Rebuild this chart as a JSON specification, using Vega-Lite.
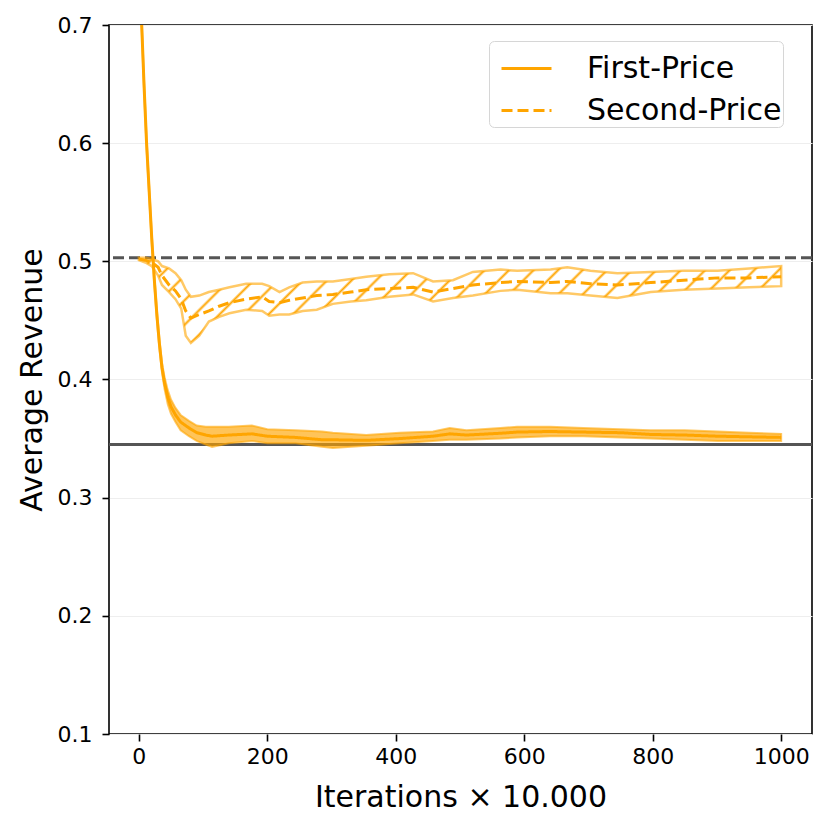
{
  "$schema": "https://vega.github.io/schema/vega-lite/v6.json",
  "width": 703,
  "height": 709,
  "autosize": {"type": "none"},
  "padding": {"left": 109, "top": 25, "right": 18, "bottom": 96},
  "config": {
    "font": "DejaVu Sans",
    "view": {"stroke": "black", "strokeWidth": 1.6},
    "axis": {
      "domain": false,
      "tickColor": "black",
      "tickWidth": 1.6,
      "tickSize": 7,
      "labelColor": "black",
      "labelFontSize": 22,
      "titleFontSize": 30,
      "titleFontWeight": "normal",
      "titleColor": "black"
    }
  },
  "data": {
    "values": [
      {"auction": "First-Price", "x": 0, "mean": 0.77, "lo": 0.765, "hi": 0.775},
      {"auction": "First-Price", "x": 4, "mean": 0.706, "lo": 0.702, "hi": 0.71},
      {"auction": "First-Price", "x": 8, "mean": 0.65, "lo": 0.646, "hi": 0.654},
      {"auction": "First-Price", "x": 12, "mean": 0.6, "lo": 0.596, "hi": 0.604},
      {"auction": "First-Price", "x": 16, "mean": 0.56, "lo": 0.556, "hi": 0.564},
      {"auction": "First-Price", "x": 20, "mean": 0.52, "lo": 0.516, "hi": 0.524},
      {"auction": "First-Price", "x": 24, "mean": 0.485, "lo": 0.481, "hi": 0.489},
      {"auction": "First-Price", "x": 28, "mean": 0.455, "lo": 0.451, "hi": 0.459},
      {"auction": "First-Price", "x": 32, "mean": 0.43, "lo": 0.426, "hi": 0.434},
      {"auction": "First-Price", "x": 36, "mean": 0.41, "lo": 0.406, "hi": 0.414},
      {"auction": "First-Price", "x": 40, "mean": 0.397, "lo": 0.392, "hi": 0.402},
      {"auction": "First-Price", "x": 45, "mean": 0.385, "lo": 0.379, "hi": 0.391},
      {"auction": "First-Price", "x": 50, "mean": 0.377, "lo": 0.371, "hi": 0.383},
      {"auction": "First-Price", "x": 57, "mean": 0.37, "lo": 0.364, "hi": 0.376},
      {"auction": "First-Price", "x": 65, "mean": 0.364, "lo": 0.357, "hi": 0.37},
      {"auction": "First-Price", "x": 78, "mean": 0.359, "lo": 0.352, "hi": 0.365},
      {"auction": "First-Price", "x": 90, "mean": 0.355, "lo": 0.348, "hi": 0.361},
      {"auction": "First-Price", "x": 104, "mean": 0.353, "lo": 0.345, "hi": 0.36},
      {"auction": "First-Price", "x": 114, "mean": 0.352, "lo": 0.343, "hi": 0.36},
      {"auction": "First-Price", "x": 140, "mean": 0.353, "lo": 0.346, "hi": 0.36},
      {"auction": "First-Price", "x": 176, "mean": 0.354, "lo": 0.348, "hi": 0.361},
      {"auction": "First-Price", "x": 200, "mean": 0.352, "lo": 0.346, "hi": 0.358},
      {"auction": "First-Price", "x": 244, "mean": 0.351, "lo": 0.346, "hi": 0.357},
      {"auction": "First-Price", "x": 285, "mean": 0.349, "lo": 0.343, "hi": 0.356},
      {"auction": "First-Price", "x": 302, "mean": 0.349, "lo": 0.342, "hi": 0.355},
      {"auction": "First-Price", "x": 354, "mean": 0.3485, "lo": 0.344, "hi": 0.353},
      {"auction": "First-Price", "x": 406, "mean": 0.35, "lo": 0.346, "hi": 0.355},
      {"auction": "First-Price", "x": 458, "mean": 0.352, "lo": 0.348, "hi": 0.356},
      {"auction": "First-Price", "x": 484, "mean": 0.354, "lo": 0.349, "hi": 0.359},
      {"auction": "First-Price", "x": 510, "mean": 0.353, "lo": 0.349, "hi": 0.357},
      {"auction": "First-Price", "x": 563, "mean": 0.3545, "lo": 0.35, "hi": 0.359},
      {"auction": "First-Price", "x": 589, "mean": 0.3555, "lo": 0.351, "hi": 0.36},
      {"auction": "First-Price", "x": 640, "mean": 0.356, "lo": 0.352, "hi": 0.36},
      {"auction": "First-Price", "x": 692, "mean": 0.3555, "lo": 0.352, "hi": 0.359},
      {"auction": "First-Price", "x": 750, "mean": 0.355, "lo": 0.351, "hi": 0.358},
      {"auction": "First-Price", "x": 797, "mean": 0.3535, "lo": 0.35, "hi": 0.357},
      {"auction": "First-Price", "x": 850, "mean": 0.353, "lo": 0.349, "hi": 0.357},
      {"auction": "First-Price", "x": 901, "mean": 0.352, "lo": 0.348, "hi": 0.356},
      {"auction": "First-Price", "x": 950, "mean": 0.3515, "lo": 0.348, "hi": 0.355},
      {"auction": "First-Price", "x": 1000, "mean": 0.351, "lo": 0.348, "hi": 0.354},
      {"auction": "Second-Price", "x": 0, "mean": 0.502, "lo": 0.501, "hi": 0.503},
      {"auction": "Second-Price", "x": 10, "mean": 0.501, "lo": 0.499, "hi": 0.503},
      {"auction": "Second-Price", "x": 20, "mean": 0.499, "lo": 0.496, "hi": 0.502},
      {"auction": "Second-Price", "x": 30, "mean": 0.495, "lo": 0.488, "hi": 0.5},
      {"auction": "Second-Price", "x": 36, "mean": 0.488, "lo": 0.48, "hi": 0.496},
      {"auction": "Second-Price", "x": 47, "mean": 0.48, "lo": 0.474, "hi": 0.494},
      {"auction": "Second-Price", "x": 57, "mean": 0.475, "lo": 0.468, "hi": 0.49},
      {"auction": "Second-Price", "x": 66, "mean": 0.468, "lo": 0.46, "hi": 0.484},
      {"auction": "Second-Price", "x": 73, "mean": 0.458, "lo": 0.437, "hi": 0.476},
      {"auction": "Second-Price", "x": 81, "mean": 0.452, "lo": 0.431, "hi": 0.47},
      {"auction": "Second-Price", "x": 94, "mean": 0.455, "lo": 0.437, "hi": 0.471},
      {"auction": "Second-Price", "x": 109, "mean": 0.458, "lo": 0.449, "hi": 0.474},
      {"auction": "Second-Price", "x": 125, "mean": 0.462, "lo": 0.453, "hi": 0.476},
      {"auction": "Second-Price", "x": 141, "mean": 0.465, "lo": 0.456, "hi": 0.478},
      {"auction": "Second-Price", "x": 167, "mean": 0.468, "lo": 0.459, "hi": 0.481},
      {"auction": "Second-Price", "x": 192, "mean": 0.47, "lo": 0.458, "hi": 0.481},
      {"auction": "Second-Price", "x": 203, "mean": 0.466, "lo": 0.454, "hi": 0.479},
      {"auction": "Second-Price", "x": 219, "mean": 0.465, "lo": 0.455, "hi": 0.474},
      {"auction": "Second-Price", "x": 234, "mean": 0.467, "lo": 0.455, "hi": 0.478},
      {"auction": "Second-Price", "x": 255, "mean": 0.469, "lo": 0.458, "hi": 0.482},
      {"auction": "Second-Price", "x": 277, "mean": 0.471, "lo": 0.459, "hi": 0.483},
      {"auction": "Second-Price", "x": 302, "mean": 0.472, "lo": 0.464, "hi": 0.483},
      {"auction": "Second-Price", "x": 330, "mean": 0.474, "lo": 0.466, "hi": 0.485},
      {"auction": "Second-Price", "x": 354, "mean": 0.476, "lo": 0.467, "hi": 0.487},
      {"auction": "Second-Price", "x": 390, "mean": 0.477, "lo": 0.47, "hi": 0.489},
      {"auction": "Second-Price", "x": 427, "mean": 0.478, "lo": 0.472, "hi": 0.49},
      {"auction": "Second-Price", "x": 458, "mean": 0.474, "lo": 0.466, "hi": 0.483},
      {"auction": "Second-Price", "x": 489, "mean": 0.477, "lo": 0.469, "hi": 0.484},
      {"auction": "Second-Price", "x": 520, "mean": 0.48, "lo": 0.471, "hi": 0.491},
      {"auction": "Second-Price", "x": 563, "mean": 0.482, "lo": 0.475, "hi": 0.493},
      {"auction": "Second-Price", "x": 589, "mean": 0.483, "lo": 0.476, "hi": 0.492},
      {"auction": "Second-Price", "x": 641, "mean": 0.482, "lo": 0.473, "hi": 0.493},
      {"auction": "Second-Price", "x": 667, "mean": 0.483, "lo": 0.473, "hi": 0.495},
      {"auction": "Second-Price", "x": 703, "mean": 0.481, "lo": 0.471, "hi": 0.492},
      {"auction": "Second-Price", "x": 745, "mean": 0.48, "lo": 0.469, "hi": 0.49},
      {"auction": "Second-Price", "x": 797, "mean": 0.482, "lo": 0.474, "hi": 0.491},
      {"auction": "Second-Price", "x": 848, "mean": 0.484, "lo": 0.476, "hi": 0.492},
      {"auction": "Second-Price", "x": 901, "mean": 0.486, "lo": 0.477, "hi": 0.492},
      {"auction": "Second-Price", "x": 950, "mean": 0.486, "lo": 0.478, "hi": 0.494},
      {"auction": "Second-Price", "x": 1000, "mean": 0.487, "lo": 0.479, "hi": 0.496}
    ]
  },
  "encoding": {
    "x": {
      "field": "x",
      "type": "quantitative",
      "scale": {"domain": [-46.5, 1048], "nice": false, "zero": false},
      "axis": {
        "title": "Iterations × 10.000",
        "values": [0, 200, 400, 600, 800, 1000],
        "format": "d",
        "grid": false,
        "labelPadding": 5,
        "titlePadding": 15
      }
    }
  },
  "layer": [
    {
      "data": {"values": [{"ref": 0.503}]},
      "mark": {"type": "rule", "color": "#555555", "strokeWidth": 3, "strokeDash": [11, 5]},
      "encoding": {"x": null, "y": {"field": "ref", "type": "quantitative"}}
    },
    {
      "data": {"values": [{"ref": 0.345}]},
      "mark": {"type": "rule", "color": "#555555", "strokeWidth": 3},
      "encoding": {"x": null, "y": {"field": "ref", "type": "quantitative"}}
    },
    {
      "transform": [{"filter": "datum.auction === 'First-Price'"}],
      "mark": {"type": "area", "clip": true, "color": "#FFA500", "fillOpacity": 0.65, "stroke": "#FFA500", "strokeOpacity": 0.6, "strokeWidth": 2},
      "encoding": {
        "y": {"field": "lo", "type": "quantitative"},
        "y2": {"field": "hi"}
      }
    },
    {
      "transform": [{"filter": "datum.auction === 'Second-Price'"}],
      "mark": {
        "type": "area",
        "clip": true,
        "fill": {
          "gradient": "linear",
          "x1": 0, "y1": 0, "x2": 1.12, "y2": 0.1484,
          "stops": [
            {"offset": 0, "color": "rgba(255,165,0,0)"},
            {"offset": 0.016, "color": "rgba(255,165,0,0)"}, {"offset": 0.02, "color": "#FFA500"}, {"offset": 0.024, "color": "rgba(255,165,0,0)"},
            {"offset": 0.0495, "color": "rgba(255,165,0,0)"}, {"offset": 0.0535, "color": "#FFA500"}, {"offset": 0.0575, "color": "rgba(255,165,0,0)"},
            {"offset": 0.083, "color": "rgba(255,165,0,0)"}, {"offset": 0.087, "color": "#FFA500"}, {"offset": 0.091, "color": "rgba(255,165,0,0)"},
            {"offset": 0.1165, "color": "rgba(255,165,0,0)"}, {"offset": 0.1205, "color": "#FFA500"}, {"offset": 0.1245, "color": "rgba(255,165,0,0)"},
            {"offset": 0.15, "color": "rgba(255,165,0,0)"}, {"offset": 0.154, "color": "#FFA500"}, {"offset": 0.158, "color": "rgba(255,165,0,0)"},
            {"offset": 0.1835, "color": "rgba(255,165,0,0)"}, {"offset": 0.1875, "color": "#FFA500"}, {"offset": 0.1915, "color": "rgba(255,165,0,0)"},
            {"offset": 0.217, "color": "rgba(255,165,0,0)"}, {"offset": 0.221, "color": "#FFA500"}, {"offset": 0.225, "color": "rgba(255,165,0,0)"},
            {"offset": 0.2505, "color": "rgba(255,165,0,0)"}, {"offset": 0.2545, "color": "#FFA500"}, {"offset": 0.2585, "color": "rgba(255,165,0,0)"},
            {"offset": 0.284, "color": "rgba(255,165,0,0)"}, {"offset": 0.288, "color": "#FFA500"}, {"offset": 0.292, "color": "rgba(255,165,0,0)"},
            {"offset": 0.3175, "color": "rgba(255,165,0,0)"}, {"offset": 0.3215, "color": "#FFA500"}, {"offset": 0.3255, "color": "rgba(255,165,0,0)"},
            {"offset": 0.351, "color": "rgba(255,165,0,0)"}, {"offset": 0.355, "color": "#FFA500"}, {"offset": 0.359, "color": "rgba(255,165,0,0)"},
            {"offset": 0.3845, "color": "rgba(255,165,0,0)"}, {"offset": 0.3885, "color": "#FFA500"}, {"offset": 0.3925, "color": "rgba(255,165,0,0)"},
            {"offset": 0.418, "color": "rgba(255,165,0,0)"}, {"offset": 0.422, "color": "#FFA500"}, {"offset": 0.426, "color": "rgba(255,165,0,0)"},
            {"offset": 0.4515, "color": "rgba(255,165,0,0)"}, {"offset": 0.4555, "color": "#FFA500"}, {"offset": 0.4595, "color": "rgba(255,165,0,0)"},
            {"offset": 0.485, "color": "rgba(255,165,0,0)"}, {"offset": 0.489, "color": "#FFA500"}, {"offset": 0.493, "color": "rgba(255,165,0,0)"},
            {"offset": 0.5185, "color": "rgba(255,165,0,0)"}, {"offset": 0.5225, "color": "#FFA500"}, {"offset": 0.5265, "color": "rgba(255,165,0,0)"},
            {"offset": 0.552, "color": "rgba(255,165,0,0)"}, {"offset": 0.556, "color": "#FFA500"}, {"offset": 0.56, "color": "rgba(255,165,0,0)"},
            {"offset": 0.5855, "color": "rgba(255,165,0,0)"}, {"offset": 0.5895, "color": "#FFA500"}, {"offset": 0.5935, "color": "rgba(255,165,0,0)"},
            {"offset": 0.619, "color": "rgba(255,165,0,0)"}, {"offset": 0.623, "color": "#FFA500"}, {"offset": 0.627, "color": "rgba(255,165,0,0)"},
            {"offset": 0.6525, "color": "rgba(255,165,0,0)"}, {"offset": 0.6565, "color": "#FFA500"}, {"offset": 0.6605, "color": "rgba(255,165,0,0)"},
            {"offset": 0.686, "color": "rgba(255,165,0,0)"}, {"offset": 0.69, "color": "#FFA500"}, {"offset": 0.694, "color": "rgba(255,165,0,0)"},
            {"offset": 0.7195, "color": "rgba(255,165,0,0)"}, {"offset": 0.7235, "color": "#FFA500"}, {"offset": 0.7275, "color": "rgba(255,165,0,0)"},
            {"offset": 0.753, "color": "rgba(255,165,0,0)"}, {"offset": 0.757, "color": "#FFA500"}, {"offset": 0.761, "color": "rgba(255,165,0,0)"},
            {"offset": 0.7865, "color": "rgba(255,165,0,0)"}, {"offset": 0.7905, "color": "#FFA500"}, {"offset": 0.7945, "color": "rgba(255,165,0,0)"},
            {"offset": 0.82, "color": "rgba(255,165,0,0)"}, {"offset": 0.824, "color": "#FFA500"}, {"offset": 0.828, "color": "rgba(255,165,0,0)"},
            {"offset": 0.8535, "color": "rgba(255,165,0,0)"}, {"offset": 0.8575, "color": "#FFA500"}, {"offset": 0.8615, "color": "rgba(255,165,0,0)"},
            {"offset": 0.887, "color": "rgba(255,165,0,0)"}, {"offset": 0.891, "color": "#FFA500"}, {"offset": 0.895, "color": "rgba(255,165,0,0)"},
            {"offset": 0.9205, "color": "rgba(255,165,0,0)"}, {"offset": 0.9245, "color": "#FFA500"}, {"offset": 0.9285, "color": "rgba(255,165,0,0)"},
            {"offset": 0.954, "color": "rgba(255,165,0,0)"}, {"offset": 0.958, "color": "#FFA500"}, {"offset": 0.962, "color": "rgba(255,165,0,0)"},
            {"offset": 0.9875, "color": "rgba(255,165,0,0)"}, {"offset": 0.9915, "color": "#FFA500"}, {"offset": 0.9955, "color": "rgba(255,165,0,0)"},
            {"offset": 1, "color": "rgba(255,165,0,0)"}
          ]
        },
        "fillOpacity": 1,
        "stroke": "#FFA500",
        "strokeOpacity": 0.6,
        "strokeWidth": 2.5
      },
      "encoding": {
        "y": {"field": "lo", "type": "quantitative"},
        "y2": {"field": "hi"}
      }
    },
    {
      "mark": {"type": "line", "clip": true, "color": "#FFA500", "strokeWidth": 3},
      "encoding": {
        "y": {
          "field": "mean",
          "type": "quantitative",
          "scale": {"domain": [0.1, 0.7], "nice": false, "zero": false},
          "axis": {
            "title": "Average Revenue",
            "values": [0.1, 0.2, 0.3, 0.4, 0.5, 0.6, 0.7],
            "format": ".1f",
            "grid": true,
            "gridColor": "#eeeeee",
            "gridWidth": 1,
            "labelPadding": 10,
            "titlePadding": 10
          }
        },
        "strokeDash": {
          "field": "auction",
          "type": "nominal",
          "scale": {"domain": ["First-Price", "Second-Price"], "range": [[1, 0], [11, 5]]},
          "legend": {
            "title": null,
            "orient": "none",
            "legendX": 380,
            "legendY": 16,
            "fillColor": "rgba(255,255,255,0.8)",
            "strokeColor": "#d6d6d6",
            "cornerRadius": 5,
            "padding": 1,
            "rowPadding": -9,
            "symbolType": "stroke",
            "symbolSize": 2500,
            "symbolOffset": 10,
            "symbolStrokeWidth": 3,
            "symbolStrokeColor": "#FFA500",
            "labelFontSize": 30,
            "labelColor": "black",
            "labelOffset": 34,
            "labelLimit": 320,
            "labelExpr": "datum.label + '\u00a0\u00a0'"
          }
        }
      }
    }
  ]
}
